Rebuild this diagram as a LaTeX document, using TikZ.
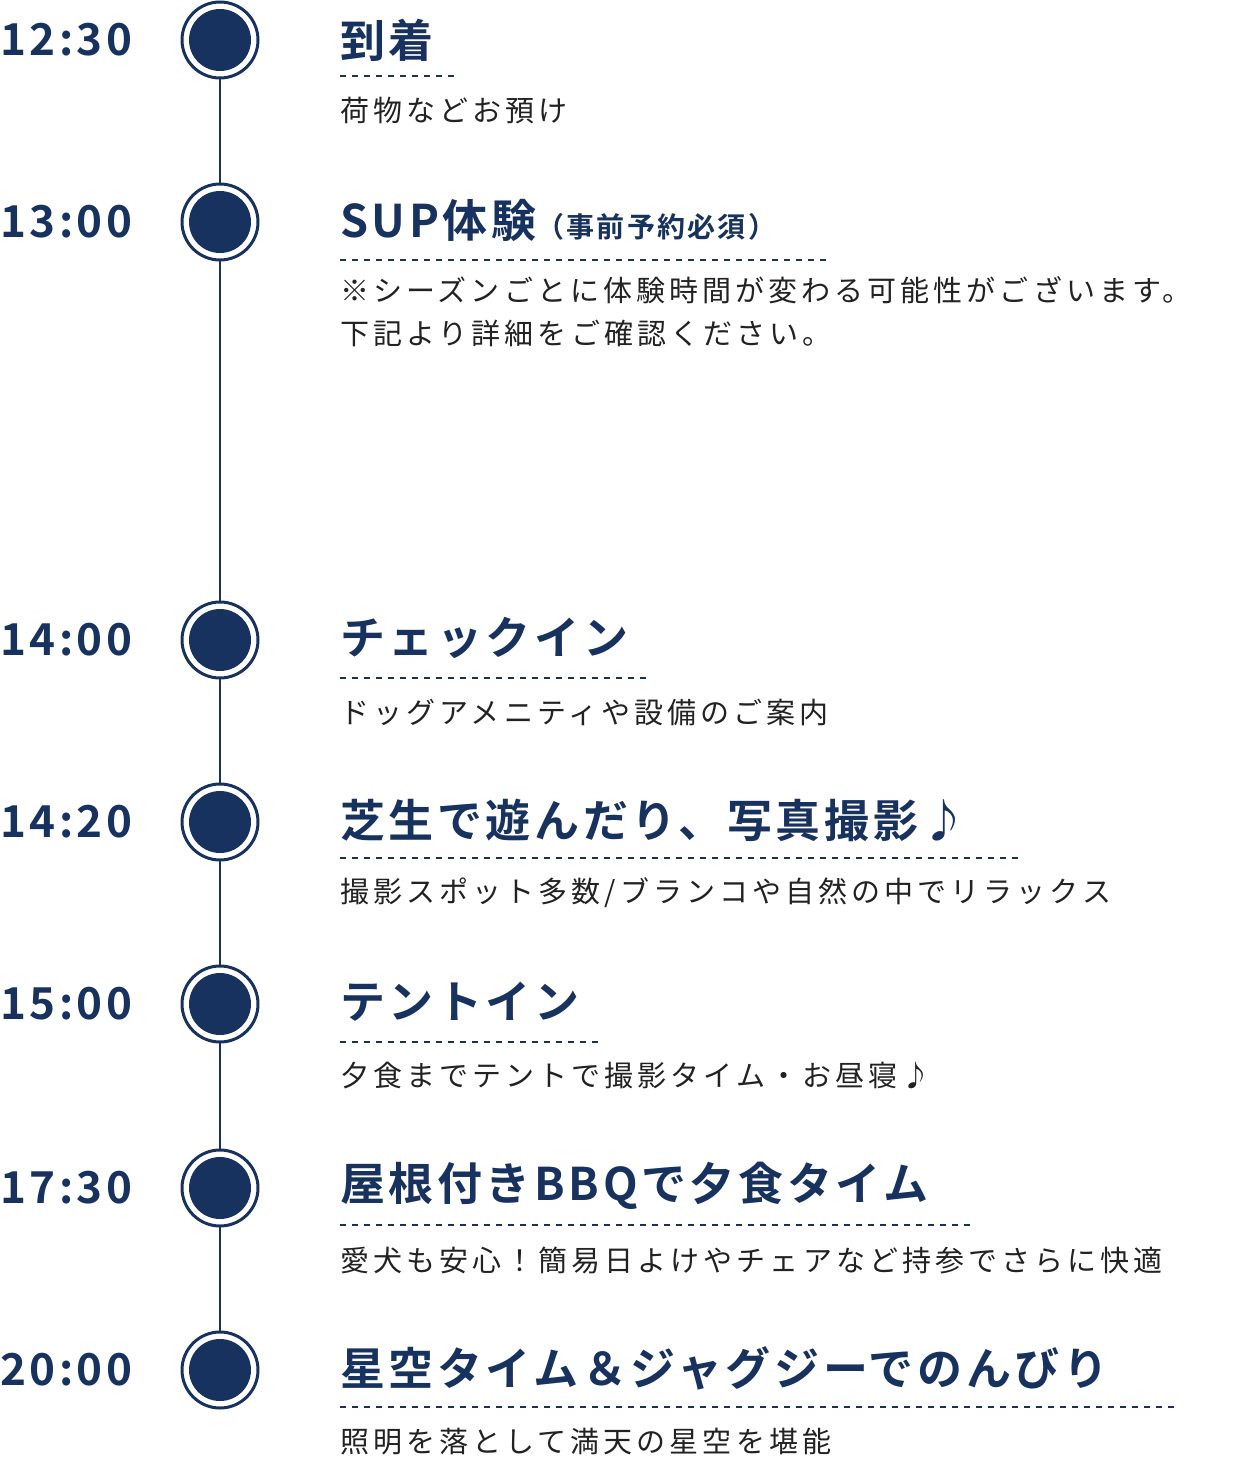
\documentclass[tikz,border=0pt]{standalone}
\usepackage{fontspec}
\setmainfont{Noto Sans CJK JP}
\newfontfamily\tfont[LetterSpace=8]{Noto Sans CJK JP Bold}
\newfontfamily\sfont[LetterSpace=14]{Noto Sans CJK JP}
\definecolor{navy}{HTML}{17325E}
\definecolor{sub}{HTML}{222222}
\begin{document}
\begin{tikzpicture}[x=1pt,y=-1pt,
 ring/.style={circle,draw=navy,line width=3pt,fill=white,minimum size=76pt,inner sep=0},
 dot/.style={circle,fill=navy,minimum size=62pt,inner sep=0},
 tm/.style={anchor=west,inner sep=0,text=navy,font=\tfont\fontsize{44}{50}\selectfont},
 ttl/.style={anchor=west,inner sep=0,text=navy,font=\tfont\fontsize{45}{52}\selectfont},
 stl/.style={anchor=west,inner sep=0,text=sub,font=\sfont\fontsize{29}{43}\selectfont,align=left},
 dsh/.style={draw=navy,line width=1.5pt,dash pattern=on 6pt off 6pt}]
\useasboundingbox (0,0) rectangle (1248,1464);
\foreach \n/\y in {1/40,2/222,3/640,4/822,5/1004,6/1188,7/1370}{
 \coordinate (p\n) at (220,\y);}
\draw[navy,line width=2pt] (p1) -- (p7);
\foreach \n in {1,...,7}{
 \node[ring] (r\n) at (p\n) {};
 \node[dot] (d\n) at (p\n) {};}
\foreach \n/\t in {1/12:30,2/13:00,3/14:00,4/14:20,5/15:00,6/17:30,7/20:00}{
 \node[tm] (t\n) at ([xshift=-220]p\n) {\t};}
% titles
\node[ttl] (h1) at (340,40) {到着};
\node[ttl] (h2) at (340,220) {SUP体験\fontsize{28}{30}\selectfont（事前予約必須）};
\node[ttl] (h3) at (340,638) {チェックイン};
\node[ttl] (h4) at (340,820) {芝生で遊んだり、写真撮影♪};
\node[ttl] (h5) at (340,1002) {テントイン};
\node[ttl] (h6) at (340,1186) {屋根付きBBQで夕食タイム};
\node[ttl] (h7) at (340,1368) {星空タイム＆ジャグジーでのんびり};
% underlines
\foreach \n/\y/\e in {1/76/456,2/260/826,3/678/650,4/858/1018,5/1042/602,6/1225/970,7/1407/1176}{
 \coordinate (a\n) at (340,\y); \coordinate (b\n) at (\e,\y);
 \draw[dsh] (a\n) -- (b\n);}
% subtitles
\node[stl] (s1) at (340,111) {荷物などお預け};
\node[stl,anchor=north west] (s2) at (340,276) {※シーズンごとに体験時間が変わる可能性がございます。\\下記より詳細をご確認ください。};
\node[stl] (s3) at (340,712) {ドッグアメニティや設備のご案内};
\node[stl] (s4) at (340,893) {撮影スポット多数/ブランコや自然の中でリラックス};
\node[stl] (s5) at (340,1076) {夕食までテントで撮影タイム・お昼寝♪};
\node[stl] (s6) at (340,1260) {愛犬も安心！簡易日よけやチェアなど持参でさらに快適};
\node[stl] (s7) at (340,1442) {照明を落として満天の星空を堪能};
\end{tikzpicture}
\end{document}
